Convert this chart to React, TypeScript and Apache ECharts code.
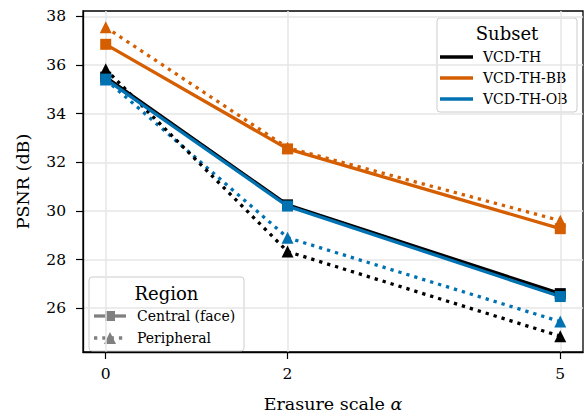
import React, { useEffect, useRef } from "react";
import * as echarts from "echarts";

const xVals = [0, 2, 5];
const xTicks = [0, 2, 5];
const yTicks = [26, 28, 30, 32, 34, 36, 38];
const xMin = -0.25;
const xMax = 5.25;
const yMin = 24.2;
const yMax = 38.22;

const thCentral = [35.5, 30.25, 26.6];
const thPeripheral = [35.82, 28.33, 24.85];
const bbCentral = [36.85, 32.55, 29.27];
const bbPeripheral = [37.55, 32.6, 29.6];
const obCentral = [35.42, 30.2, 26.48];
const obPeripheral = [35.4, 28.9, 25.45];

const subsetNames = ["VCD-TH", "VCD-TH-BB", "VCD-TH-OB"];
const subsetColors = ["#000000", "#d55e00", "#0072b2"];
const regionNames = ["Central (face)", "Peripheral"];

const FONT = "DejaVu Serif";

export default function App() {
  const ref = useRef<HTMLDivElement>(null);
  useEffect(() => {
    if (!ref.current) return;
    const chart = echarts.init(ref.current, null, { renderer: "svg" });
    const pair = (arr: number[]) => xVals.map((x, i) => [x, arr[i]]);
    const mk = (
      name: string,
      data: number[],
      color: string,
      periph: boolean,
      z: number
    ) => ({
      type: "line",
      name,
      data: pair(data),
      z,
      symbol: periph ? "triangle" : "rect",
      symbolSize: periph ? [12, 12] : 11,
      showSymbol: true,
      itemStyle: { color },
      lineStyle: {
        color,
        width: 3.3,
        type: periph ? [3.3, 5] : "solid",
        cap: "butt",
      },
      silent: true,
    });
    const grey = "#e6e6e6";
    const gridLineData: any[] = [
      ...xTicks.map((v) => [{ coord: [v, yMin] }, { coord: [v, yMax] }]),
      ...yTicks.map((v) => [{ coord: [xMin, v] }, { coord: [xMax, v] }]),
    ];
    const gray = "#808080";
    chart.setOption({
      animation: false,
      grid: {
        left: 83,
        top: 11,
        right: 4,
        bottom: 60,
        show: true,
        borderColor: "#000",
        borderWidth: 1.3,
        backgroundColor: "transparent",
      },
      xAxis: {
        type: "value",
        min: xMin,
        max: xMax,
        name: "Erasure scale {i|α}",
        nameLocation: "middle",
        nameGap: 43,
        nameTextStyle: {
          fontFamily: FONT,
          fontSize: 17.5,
          color: "#000",
          rich: { i: { fontFamily: FONT, fontStyle: "italic", fontSize: 17.5, color: "#000" } },
        },
        axisLine: { show: true, onZero: false, lineStyle: { color: "#000", width: 1.3 } },
        axisTick: { show: true, length: 7, lineStyle: { color: "#000", width: 1.2 }, customValues: xTicks },
        axisLabel: { fontFamily: FONT, fontSize: 15.5, color: "#000", margin: 14, customValues: xTicks },
        splitLine: { show: false },
      },
      yAxis: {
        type: "value",
        min: yMin,
        max: yMax,
        name: "PSNR (dB)",
        nameLocation: "middle",
        nameGap: 51,
        nameTextStyle: { fontFamily: FONT, fontSize: 17.5, color: "#000" },
        axisLine: { show: true, onZero: false, lineStyle: { color: "#000", width: 1.3 } },
        axisTick: { show: true, length: 7, lineStyle: { color: "#000", width: 1.2 }, customValues: yTicks },
        axisLabel: { fontFamily: FONT, fontSize: 15.5, color: "#000", margin: 17, customValues: yTicks },
        splitLine: { show: false },
      },
      series: [
        {
          type: "line",
          data: [],
          showSymbol: false,
          symbol: "none",
          z: 0,
          silent: true,
          markLine: {
            silent: true,
            z: 0,
            symbol: "none",
            label: { show: false },
            lineStyle: { color: grey, width: 1.5, type: "solid" },
            data: gridLineData,
          },
        },
        mk("OB-P", obPeripheral, subsetColors[2], true, 2),
        mk("BB-P", bbPeripheral, subsetColors[1], true, 2),
        mk("TH-P", thPeripheral, subsetColors[0], true, 2),
        mk("TH-C", thCentral, subsetColors[0], false, 2),
        mk("BB-C", bbCentral, subsetColors[1], false, 2),
        mk("OB-C", obCentral, subsetColors[2], false, 2),
      ],
      graphic: [
        {
          type: "group",
          z: 100,
          children: [
            {
              type: "rect",
              shape: { x: 437, y: 18, width: 140, height: 94, r: 3 },
              style: { fill: "rgba(255,255,255,0.8)", stroke: "#cccccc", lineWidth: 1 },
            },
            {
              type: "text",
              x: 507,
              y: 33,
              style: { text: "Subset", fontFamily: FONT, fontSize: 18, fill: "#000", align: "center", verticalAlign: "middle" },
            },
            ...subsetNames.flatMap((n, i) => [
              {
                type: "line",
                shape: { x1: 440, y1: 57 + i * 21, x2: 473, y2: 57 + i * 21 },
                style: { stroke: subsetColors[i], lineWidth: 3.5 },
              },
              {
                type: "text",
                x: 483,
                y: 57 + i * 21,
                style: { text: n, fontFamily: FONT, fontSize: 14, fill: "#000", align: "left", verticalAlign: "middle" },
              },
            ]),
          ],
        },
        {
          type: "group",
          z: 100,
          children: [
            {
              type: "rect",
              shape: { x: 89, y: 277, width: 155, height: 74, r: 3 },
              style: { fill: "rgba(255,255,255,0.8)", stroke: "#cccccc", lineWidth: 1 },
            },
            {
              type: "text",
              x: 166.5,
              y: 293,
              style: { text: "Region", fontFamily: FONT, fontSize: 18, fill: "#000", align: "center", verticalAlign: "middle" },
            },
            {
              type: "line",
              shape: { x1: 94, y1: 316, x2: 126, y2: 316 },
              style: { stroke: gray, lineWidth: 3.3 },
            },
            {
              type: "rect",
              shape: { x: 105, y: 311, width: 10, height: 10 },
              style: { fill: gray },
            },
            {
              type: "line",
              shape: { x1: 94, y1: 338, x2: 126, y2: 338 },
              style: { stroke: gray, lineWidth: 3.3, lineDash: [3.3, 5] },
            },
            {
              type: "polygon",
              shape: { points: [[110, 332], [116, 344], [104, 344]] },
              style: { fill: gray },
            },
            ...regionNames.map((n, i) => ({
              type: "text",
              x: 137,
              y: 316 + i * 22,
              style: { text: n, fontFamily: FONT, fontSize: 14, fill: "#000", align: "left", verticalAlign: "middle" },
            })),
          ],
        },
      ],
    });
    return () => chart.dispose();
  }, []);
  return (
    <div
      ref={ref}
      style={{ position: "absolute", left: 0, top: 0, width: 587, height: 418 }}
    />
  );
}
